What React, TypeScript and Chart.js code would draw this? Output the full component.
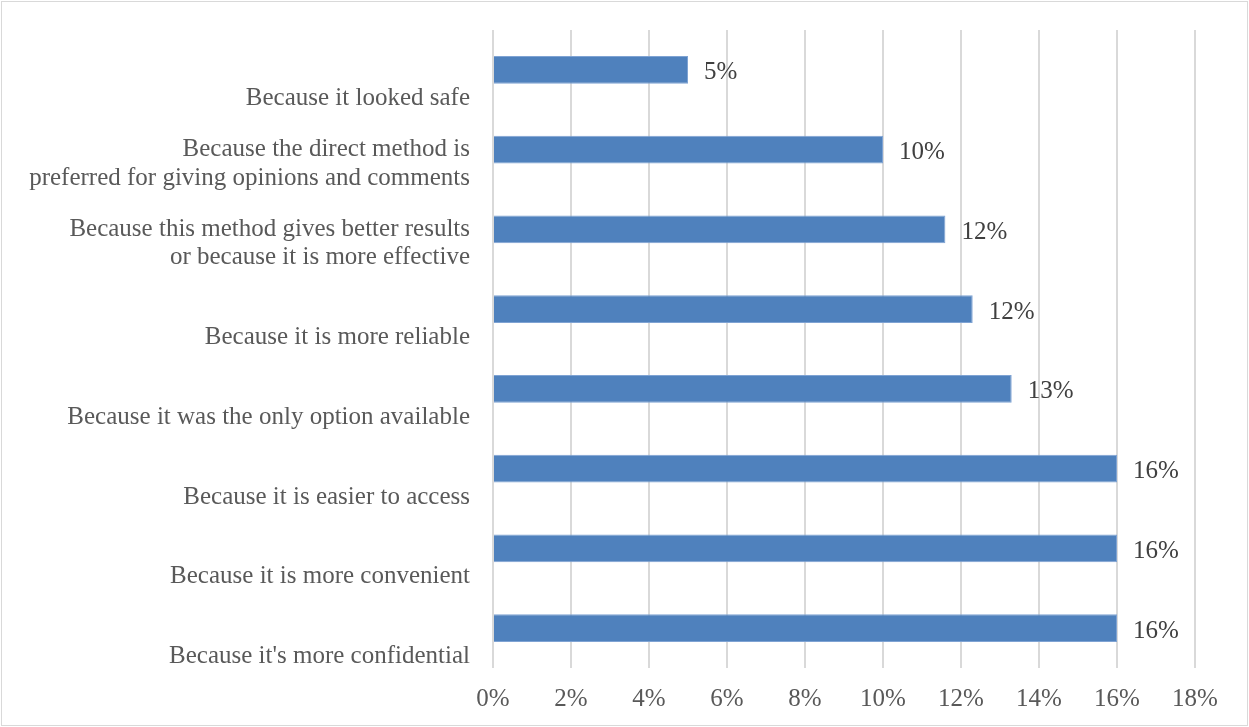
import React, { useEffect, useRef } from "react";
import { Chart, registerables } from "chart.js";

Chart.register(...registerables);

const categories: string[][] = [
  ["Because it looked safe"],
  ["Because the direct method is", "preferred for giving opinions and comments"],
  ["Because this method gives better results", "or because it is more effective"],
  ["Because it is more reliable"],
  ["Because it was the only option available"],
  ["Because it is easier to access"],
  ["Because it is more convenient"],
  ["Because it's more confidential"],
];

const shares: number[] = [5.0, 10.0, 11.6, 12.3, 13.3, 16.0, 16.0, 16.0];

const xTicks: number[] = [0, 2, 4, 6, 8, 10, 12, 14, 16, 18];

const FONT = "'Liberation Serif', 'Times New Roman', serif";
const TEXT = "#595959";

export default function App() {
  const ref = useRef<HTMLCanvasElement | null>(null);

  useEffect(() => {
    document.body.style.margin = "0";
    const canvas = ref.current;
    if (!canvas) return;

    const framePlugin = {
      id: "frame",
      beforeDraw(chart: any) {
        const { ctx, width, height } = chart;
        ctx.save();
        ctx.fillStyle = "#ffffff";
        ctx.fillRect(0, 0, width, height);
        ctx.strokeStyle = "#D9D9D9";
        ctx.lineWidth = 1;
        ctx.strokeRect(1.5, 1.5, width - 3, height - 3);
        ctx.restore();
      },
    };

    const valueLabels = {
      id: "valueLabels",
      afterDatasetsDraw(chart: any) {
        const { ctx } = chart;
        const meta = chart.getDatasetMeta(0);
        ctx.save();
        ctx.font = `25px ${FONT}`;
        ctx.fillStyle = "#404040";
        ctx.textAlign = "left";
        ctx.textBaseline = "middle";
        meta.data.forEach((el: any, i: number) => {
          const v = shares[i];
          ctx.fillText(`${Math.round(v)}%`, el.x + 16, el.y + 3);
        });
        ctx.restore();
      },
    };

    const chart = new Chart(canvas, {
      type: "bar",
      data: {
        labels: categories as any,
        datasets: [
          {
            data: shares,
            backgroundColor: "#4F81BD",
            borderColor: "#7FA3D3",
            borderWidth: 1,
            categoryPercentage: 1,
            barPercentage: 0.345,
          },
        ],
      },
      options: {
        indexAxis: "y",
        animation: false,
        responsive: false,
        maintainAspectRatio: false,
        layout: { padding: { top: 30, right: 54, bottom: 0, left: 0 } },
        plugins: {
          legend: { display: false },
          tooltip: { enabled: false },
        },
        scales: {
          x: {
            min: 0,
            max: 18,
            afterFit(scale: any) {
              scale.height = 59;
            },
            afterBuildTicks(scale: any) {
              scale.ticks = xTicks.map((v) => ({ value: v }));
            },
            grid: {
              color: "#D9D9D9",
              lineWidth: 2,
              drawTicks: false,
            },
            border: { display: false },
            ticks: {
              padding: 16,
              color: TEXT,
              font: { family: FONT, size: 25 },
              callback: (v: any) => `${v}%`,
            },
          },
          y: {
            afterFit(scale: any) {
              scale.width = 493;
              scale.paddingTop = 0;
              scale.paddingBottom = 0;
            },
            grid: { display: false, drawTicks: false },
            border: { display: false },
            ticks: {
              padding: 23,
              labelOffset: 14,
              color: TEXT,
              font: { family: FONT, size: 25, lineHeight: 1.15 },
              callback: function (this: any, value: any) {
                const lines = categories[value] || [];
                return lines.length === 1 ? ["", lines[0]] : lines;
              },
            },
          },
        },
      },
      plugins: [framePlugin, valueLabels],
    });

    return () => chart.destroy();
  }, []);

  return (
    <div style={{ width: 1249, height: 727 }}>
      <canvas ref={ref} width={1249} height={727} style={{ display: "block" }} />
    </div>
  );
}
